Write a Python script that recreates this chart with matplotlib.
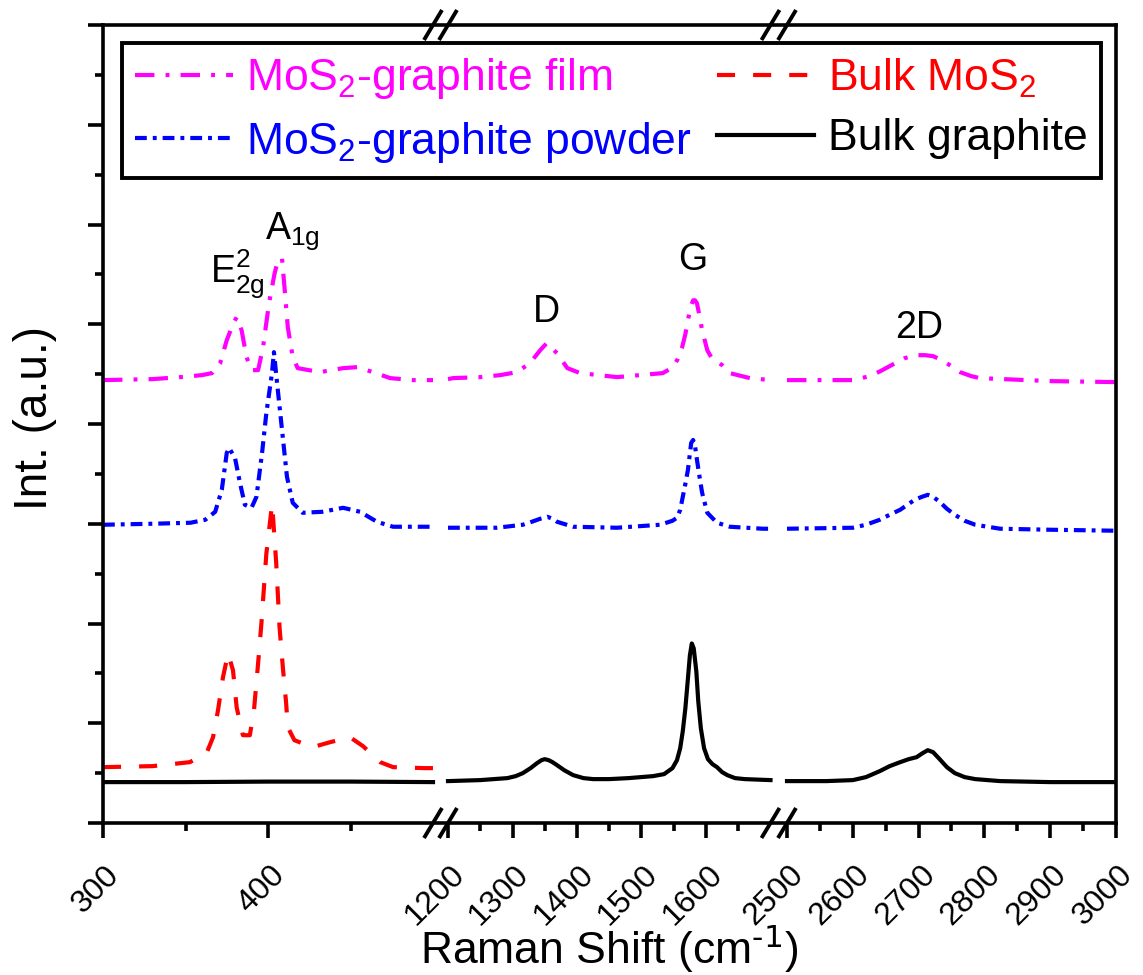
import numpy as np
import matplotlib
matplotlib.use("Agg")
import matplotlib.pyplot as plt
from matplotlib import transforms
from matplotlib.ticker import FixedLocator, NullFormatter

plt.rcParams['font.family'] = ['Liberation Sans', 'DejaVu Sans']
plt.rcParams['mathtext.default'] = 'regular'
plt.rcParams['lines.scale_dashes'] = False

# ---------------- spectra (Raman shift in cm-1, stacked intensity in a.u.) ----------------
# MoS2-graphite film
film_x1 = [300, 330, 347, 360, 366, 371, 375, 379, 381, 384, 387, 390, 394, 397, 400.6,
           404, 406, 408.5, 410, 412, 415, 418, 431.5, 445.5, 454, 463.6, 474, 488, 500]
film_y1 = [4.44, 4.45, 4.47, 4.49, 4.51, 4.61, 4.84, 5.01, 5.07, 4.94, 4.67, 4.54, 4.54, 4.77, 5.21,
           5.51, 5.64, 5.66, 5.37, 4.97, 4.67, 4.56, 4.52, 4.56, 4.57, 4.52, 4.46, 4.44, 4.44]
film_x2 = [1200, 1208, 1250, 1281, 1307, 1327, 1343, 1353, 1369, 1385, 1405, 1462, 1533, 1549,
           1556, 1563, 1568, 1572, 1576, 1580, 1583, 1586, 1590, 1594, 1602, 1608, 1614, 1625, 1637, 1668, 1700]
film_y2 = [4.45, 4.46, 4.47, 4.49, 4.52, 4.61, 4.74, 4.81, 4.71, 4.56, 4.51, 4.47, 4.51, 4.57,
           4.65, 4.77, 4.90, 5.04, 5.17, 5.24, 5.24, 5.21, 5.08, 4.94, 4.74, 4.67, 4.64, 4.59, 4.51, 4.46, 4.44]
film_x3 = [2500, 2600, 2626, 2642, 2656, 2679, 2695, 2710, 2722, 2732, 2745, 2763, 2780, 2793, 2900, 3000]
film_y3 = [4.44, 4.44, 4.48, 4.53, 4.58, 4.66, 4.69, 4.69, 4.68, 4.65, 4.60, 4.52, 4.48, 4.46, 4.43, 4.42]

# MoS2-graphite powder
powder_x1 = [300, 330, 353, 362, 368, 372, 375, 376.4, 380, 383, 386, 390, 393, 396.4, 399,
             402.4, 403.6, 405.5, 408.5, 411.5, 415, 421, 433, 445.5, 455.8, 466, 475.8, 500]
powder_y1 = [2.99, 3.00, 3.01, 3.04, 3.12, 3.34, 3.71, 3.76, 3.66, 3.41, 3.19, 3.16, 3.27, 3.71, 4.11,
             4.51, 4.72, 4.41, 3.94, 3.47, 3.21, 3.11, 3.12, 3.16, 3.12, 3.02, 2.97, 2.97]
powder_x2 = [1200, 1208, 1276, 1316, 1330, 1343, 1354, 1362, 1369, 1394, 1462, 1529, 1548, 1555, 1560,
             1564, 1568, 1572, 1577, 1580, 1583, 1586, 1590, 1594, 1602, 1617, 1637, 1688, 1700]
powder_y2 = [2.96, 2.96, 2.96, 2.99, 3.02, 3.05, 3.07, 3.05, 3.02, 2.97, 2.96, 2.99, 3.03, 3.06, 3.14,
             3.27, 3.40, 3.54, 3.81, 3.84, 3.78, 3.64, 3.47, 3.31, 3.11, 3.01, 2.97, 2.95, 2.95]
powder_x3 = [2500, 2600, 2620, 2641, 2656, 2672, 2694, 2705, 2714, 2722, 2732, 2743, 2755, 2770,
             2786, 2824, 2900, 3000]
powder_y3 = [2.95, 2.96, 2.99, 3.04, 3.09, 3.14, 3.24, 3.27, 3.29, 3.27, 3.22, 3.15, 3.09, 3.03,
             2.99, 2.95, 2.94, 2.93]

# Bulk MoS2
mos2_x1 = [300, 330, 352.7, 363, 366.7, 369.7, 372.7, 375.8, 378.8, 381, 384.8, 389, 391.5, 394,
           396, 399, 402.5, 405, 407, 409, 411, 412, 416, 427, 437.6, 449.7, 457.6, 468, 475.8, 495, 500]
mos2_y1 = [0.56, 0.57, 0.61, 0.71, 0.86, 1.13, 1.46, 1.70, 1.53, 1.16, 0.88, 0.88, 1.13, 1.60,
           2.00, 2.70, 3.20, 2.60, 1.96, 1.56, 1.20, 0.96, 0.83, 0.76, 0.81, 0.86, 0.77, 0.61, 0.56, 0.55, 0.55]

# Bulk graphite
graph_x1 = [300, 350, 400, 450, 500]
graph_y1 = [0.41, 0.41, 0.415, 0.415, 0.41]
graph_x2 = [1200, 1250, 1292, 1305, 1316, 1328, 1338, 1345, 1350, 1356, 1362, 1369, 1380, 1394,
            1410, 1425, 1450, 1480, 1518, 1535, 1548, 1555, 1560, 1564, 1568, 1572, 1575, 1578,
            1581, 1585, 1588, 1592, 1597, 1603, 1610, 1617, 1625, 1633, 1645, 1660, 1700]
graph_y2 = [0.42, 0.43, 0.45, 0.47, 0.50, 0.55, 0.60, 0.63, 0.64, 0.63, 0.61, 0.58, 0.53, 0.48,
            0.45, 0.44, 0.44, 0.45, 0.47, 0.49, 0.55, 0.63, 0.75, 0.92, 1.15, 1.45, 1.68, 1.80,
            1.75, 1.52, 1.22, 0.95, 0.75, 0.64, 0.59, 0.56, 0.51, 0.48, 0.45, 0.44, 0.43]
graph_x3 = [2500, 2560, 2600, 2620, 2641, 2656, 2672, 2685, 2697, 2706, 2714, 2722, 2732, 2743,
            2755, 2770, 2786, 2824, 2900, 3000]
graph_y3 = [0.42, 0.42, 0.43, 0.46, 0.52, 0.57, 0.61, 0.64, 0.66, 0.70, 0.73, 0.71, 0.64, 0.56,
            0.50, 0.46, 0.44, 0.42, 0.41, 0.41]

# axis ticks
major_ticks = [300, 400, 1200, 1300, 1400, 1500, 1600, 2500, 2600, 2700, 2800, 2900, 3000]
minor_ticks = [350, 450, 1250, 1350, 1450, 1550, 1650, 2550, 2650, 2750, 2850, 2950]
tick_labels = [str(t) for t in major_ticks]

# peak labels: (text, x, y)
peak_labels = [(r'E$^{2}_{2g}$', 364.8, 5.42), (r'A$_{1g}$', 398.2, 5.855),
               ('D', 1332, 5.02), ('G', 1556.6, 5.54), ('2D', 2664, 4.86)]

# ---------------- broken x axis as a piecewise-linear scale ----------------
XK = np.array([300., 500., 1200., 1700., 2500., 3000.])
UK = np.array([0., 330., 345., 667.5, 684., 1013.])


def fwd(x):
    x = np.asarray(x, dtype=float)
    u = np.interp(x, XK, UK)
    u = np.where(x < XK[0], (x - XK[0]) * 1.65, u)
    u = np.where(x > XK[-1], UK[-1] + (x - XK[-1]) * 0.658, u)
    return u


def inv(u):
    u = np.asarray(u, dtype=float)
    x = np.interp(u, UK, XK)
    x = np.where(u < UK[0], XK[0] + u / 1.65, x)
    x = np.where(u > UK[-1], XK[-1] + (u - UK[-1]) / 0.658, x)
    return x


def joined(*segs):
    out = []
    for i, s in enumerate(segs):
        if i:
            out.append([np.nan])
        out.append(np.asarray(s, dtype=float))
    return np.concatenate(out)


fig = plt.figure(figsize=(11.43, 9.75), dpi=100)
ax = fig.add_axes([103 / 1143, 152 / 975, 1013 / 1143, 798 / 975])
ax.set_xscale('function', functions=(fwd, inv))

LW = 3.0
ax.plot(joined(film_x1, film_x2, film_x3), joined(film_y1, film_y2, film_y3),
        color='#FF00FF', lw=LW, dashes=(14, 8, 2.8, 8), label='MoS$_2$-graphite film')
ax.plot(joined(powder_x1, powder_x2, powder_x3), joined(powder_y1, powder_y2, powder_y3),
        color='#0000FF', lw=LW, dashes=(8.5, 4.3, 2.8, 4.3), label='MoS$_2$-graphite powder')
ax.plot(mos2_x1, mos2_y1, color='#FF0000', lw=LW, dashes=(13, 13), label='Bulk MoS$_2$')
ax.plot(joined(graph_x1, graph_x2, graph_x3), joined(graph_y1, graph_y2, graph_y3),
        color='black', lw=LW, label='Bulk graphite')

ax.set_xlim(300, 3000)
ax.set_ylim(0, 8)

# frame and ticks
for sp in ax.spines.values():
    sp.set_linewidth(2.6)
ax.xaxis.set_major_locator(FixedLocator(major_ticks))
ax.xaxis.set_minor_locator(FixedLocator(minor_ticks))
ax.set_xticklabels(tick_labels)
ax.xaxis.set_minor_formatter(NullFormatter())
ax.yaxis.set_major_locator(FixedLocator(np.arange(0, 8.01, 1)))
ax.yaxis.set_minor_locator(FixedLocator(np.arange(0.5, 8, 1)))
ax.yaxis.set_major_formatter(NullFormatter())
ax.tick_params(which='both', direction='out', width=2.6, top=False, right=False)
ax.tick_params(which='major', length=11)
ax.tick_params(which='minor', length=5.5)
ax.tick_params(axis='x', which='major', labelsize=23, pad=23)
shift = transforms.ScaledTranslation(12 / 100, 0, fig.dpi_scale_trans)
for lab in ax.get_xticklabels():
    lab.set_rotation(45)
    lab.set_rotation_mode('anchor')
    lab.set_ha('right')
    lab.set_va('center')
    lab.set_transform(lab.get_transform() + shift)

# break marks on bottom and top spines
dx, dy = 9 / 1013, 15 / 798
for xb in (500, 1200, 1700, 2500):
    u = float(fwd(xb)) / 1013
    for yb in (0, 1):
        ax.plot([u - dx, u + dx], [yb - dy, yb + dy], transform=ax.transAxes,
                color='black', lw=2.8, clip_on=False, solid_capstyle='butt')

ax.set_xlabel(r'Raman Shift (cm$^{\text{-1}}$)', fontsize=32, va='baseline')
ax.xaxis.set_label_coords(0.5, (823 - 964) / 798)
ax.set_ylabel('Int. (a.u.)', fontsize=33, va='center')
ax.yaxis.set_label_coords((35 - 103) / 1013, (823 - 418) / 798)

for txt, x, y in peak_labels:
    ax.text(x, y, txt, fontsize=27, ha='left', va='baseline')

leg = ax.legend(ncol=2, loc='upper left', bbox_to_anchor=((122 - 103) / 1013, (823 - 43) / 798),
                fontsize=32, frameon=True, fancybox=False, handlelength=2.2, handletextpad=0.3,
                columnspacing=0.55, labelspacing=0.42, borderpad=0.3, borderaxespad=0)
leg.get_frame().set_edgecolor('black')
leg.get_frame().set_linewidth(2.8)
leg.get_frame().set_alpha(1)
for line, text in zip(leg.get_lines(), leg.get_texts()):
    text.set_color(line.get_color())

fig.savefig('out.png', dpi=100)
